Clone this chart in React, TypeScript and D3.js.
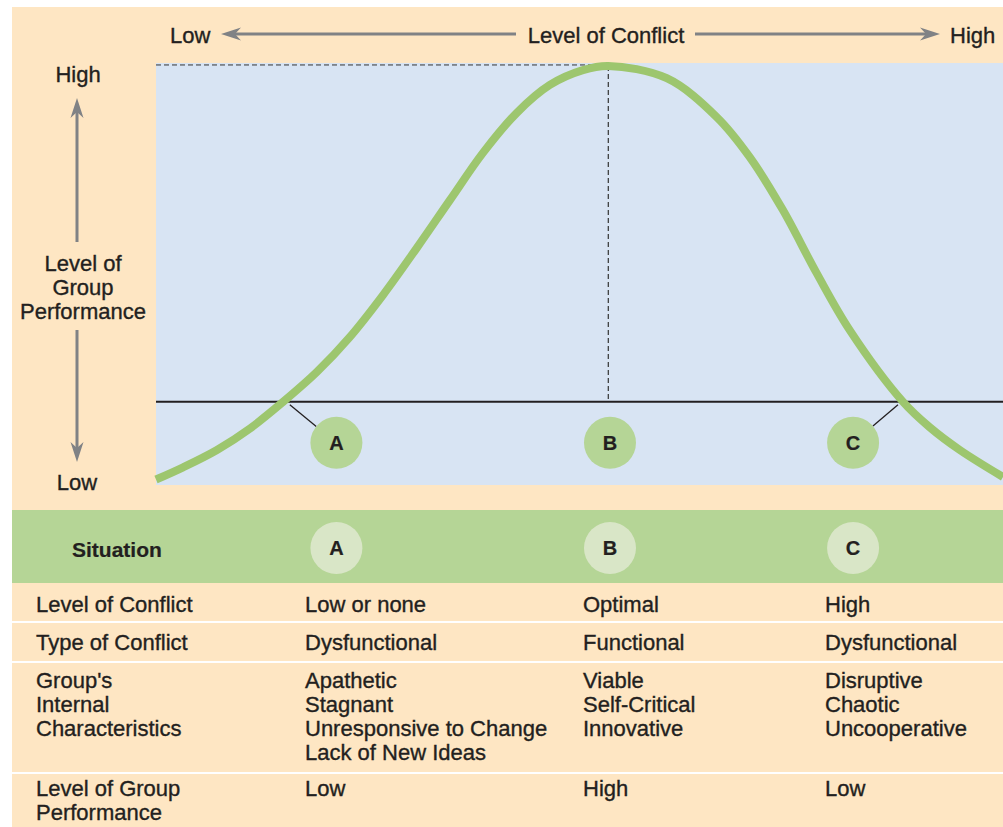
import React from 'react';
import * as d3 from 'd3';

// curve: level of conflict (0-100) vs group performance (0-100)
const conflictLevel = [0, 3.2, 7.2, 11.1, 15, 19, 22.9, 26.8, 30.8, 34.7, 38.6, 42.6, 46.5, 50.4, 53.4, 60.3, 66.2, 70.1, 74, 78, 81.9, 88.2, 91.4, 94.9, 100];
const groupPerformance = [1.3, 4.2, 8.3, 13.4, 19.7, 26.8, 35.1, 45, 56.2, 67.5, 78.7, 88.2, 94.8, 98.3, 99.3, 96.4, 87.2, 77.7, 65.2, 50.2, 36.7, 19.7, 13.6, 8.3, 1.9];

const optimalConflict = 53.4;
const peakPerformance = 99.3;
const thresholdPerformance = 19.7;

const situations = ['A', 'B', 'C'];
const situationConflict = [21.3, 53.6, 82.3];
const situationPerformance = 10;
const leaderConflict = [15.8, null, 87.6];

const rowLabels = [['Level of Conflict'], ['Type of Conflict'], ["Group's", 'Internal', 'Characteristics'], ['Level of Group', 'Performance']];
const columnA = [['Low or none'], ['Dysfunctional'], ['Apathetic', 'Stagnant', 'Unresponsive to Change', 'Lack of New Ideas'], ['Low']];
const columnB = [['Optimal'], ['Functional'], ['Viable', 'Self-Critical', 'Innovative'], ['High']];
const columnC = [['High'], ['Dysfunctional'], ['Disruptive', 'Chaotic', 'Uncooperative'], ['Low']];

const W = 1003;
const H = 827;
const plot = { left: 156, right: 1003, top: 63, bottom: 485 };
const font = '"Liberation Sans", Arial, Helvetica, sans-serif';
const ink = '#231f20';
const peach = '#fee6c3';
const sky = '#d8e4f3';
const band = '#b5d596';
const curveGreen = '#9dc66e';
const arrowGrey = '#808285';

const rowTops = [583, 622, 662, 773];
const rowBaselines = [612, 650, 688, 796];
const lineStep = 24;
const columnX = [36, 305, 583, 825];

const Arrow = ({ x1, y1, x2, y2 }) => {
  // shaft from (x1,y1) to tip (x2,y2), swept-back head
  const ang = Math.atan2(y2 - y1, x2 - x1);
  const len = 20, half = 6.5, notch = 14;
  const ux = Math.cos(ang), uy = Math.sin(ang);
  const px = -uy, py = ux;
  const bx = x2 - ux * len, by = y2 - uy * len;
  const nx = x2 - ux * notch, ny = y2 - uy * notch;
  const head = `M${x2},${y2} L${bx + px * half},${by + py * half} L${nx},${ny} L${bx - px * half},${by - py * half} Z`;
  return (
    <g>
      <line x1={x1} y1={y1} x2={nx} y2={ny} stroke={arrowGrey} strokeWidth={3} />
      <path d={head} fill={arrowGrey} />
    </g>
  );
};

const App = () => {
  const x = d3.scaleLinear().domain([0, 100]).range([plot.left, plot.right]);
  const y = d3.scaleLinear().domain([0, 100]).range([plot.bottom, plot.top]);

  const points = conflictLevel.map((c, i) => [c, groupPerformance[i]]);
  const line = d3.line().x(d => x(d[0])).y(d => y(d[1])).curve(d3.curveCatmullRom.alpha(0.5));

  const textStyle = { fontFamily: font, fontSize: 22, fill: ink, stroke: ink, strokeWidth: 0.35 };
  const boldStyle = { ...textStyle, fontWeight: 'bold', strokeWidth: 0.2 };
  const r = 26;
  const columns = [rowLabels, columnA, columnB, columnC];

  return (
    <svg width={W} height={H} style={{ position: 'absolute', left: 0, top: 0 }} viewBox={`0 0 ${W} ${H}`}>
      <rect x={0} y={0} width={W} height={H} fill='#ffffff' />
      <rect x={12} y={7} width={W - 12} height={H - 7} fill={peach} />

      {/* plot area */}
      <rect x={plot.left} y={plot.top} width={plot.right - plot.left} height={plot.bottom - plot.top} fill={sky} />
      <line x1={plot.left} x2={x(optimalConflict)} y1={y(peakPerformance) - 1} y2={y(peakPerformance) - 1} stroke='#333' strokeWidth={1} strokeDasharray='5,3' />
      <line x1={x(optimalConflict)} x2={x(optimalConflict)} y1={y(peakPerformance)} y2={y(thresholdPerformance)} stroke='#333' strokeWidth={1.2} strokeDasharray='5,3' />
      <line x1={plot.left} x2={plot.right} y1={y(thresholdPerformance)} y2={y(thresholdPerformance)} stroke={ink} strokeWidth={2} />

      {situations.map((s, i) => {
        const lc = leaderConflict[i];
        if (lc == null) return null;
        const sx = x(lc), sy = y(thresholdPerformance) + 3;
        const cx = x(situationConflict[i]), cy = y(situationPerformance);
        const d = Math.hypot(cx - sx, cy - sy);
        const t = (d - r) / d;
        return <line key={`lead-${s}`} x1={sx} y1={sy} x2={sx + (cx - sx) * t} y2={sy + (cy - sy) * t} stroke={ink} strokeWidth={1.3} />;
      })}

      <path d={line(points)} fill='none' stroke={curveGreen} strokeWidth={8} />

      {situations.map((s, i) => (
        <g key={`plot-${s}`}>
          <circle cx={x(situationConflict[i])} cy={y(situationPerformance)} r={r} fill={band} />
          <text x={x(situationConflict[i])} y={y(situationPerformance) + 7} textAnchor='middle' style={{ ...boldStyle, fontSize: 20 }}>{s}</text>
        </g>
      ))}

      {/* top axis */}
      <text x={170} y={43} style={textStyle}>Low</text>
      <Arrow x1={516} y1={34} x2={221} y2={34} />
      <text x={606} y={43} textAnchor='middle' style={textStyle}>Level of Conflict</text>
      <Arrow x1={695} y1={34} x2={940} y2={34} />
      <text x={950} y={43} style={textStyle}>High</text>

      {/* left axis */}
      <text x={78} y={82} textAnchor='middle' style={textStyle}>High</text>
      <Arrow x1={77} y1={242} x2={77} y2={98} />
      {['Level of', 'Group', 'Performance'].map((t, i) => (
        <text key={t} x={83} y={271 + i * 24} textAnchor='middle' style={textStyle}>{t}</text>
      ))}
      <Arrow x1={77} y1={330} x2={77} y2={462} />
      <text x={77} y={490} textAnchor='middle' style={textStyle}>Low</text>

      {/* situation band */}
      <rect x={12} y={510} width={W - 12} height={73} fill={band} />
      <text x={72} y={557} style={{ ...boldStyle, fontSize: 21 }}>Situation</text>
      {situations.map((s, i) => (
        <g key={`band-${s}`}>
          <circle cx={x(situationConflict[i])} cy={548} r={r} fill='#d9e6c7' />
          <text x={x(situationConflict[i])} y={555} textAnchor='middle' style={{ ...boldStyle, fontSize: 20 }}>{s}</text>
        </g>
      ))}

      {/* table */}
      {rowTops.slice(1).map(t => (
        <line key={`sep-${t}`} x1={12} x2={W} y1={t} y2={t} stroke='#ffffff' strokeWidth={2} />
      ))}
      {columns.map((col, ci) => col.map((cell, ri) => cell.map((ln, li) => (
        <text key={`c${ci}-${ri}-${li}`} x={columnX[ci]} y={rowBaselines[ri] + li * lineStep} style={textStyle}>{ln}</text>
      ))))}
    </svg>
  );
};

export default App;
